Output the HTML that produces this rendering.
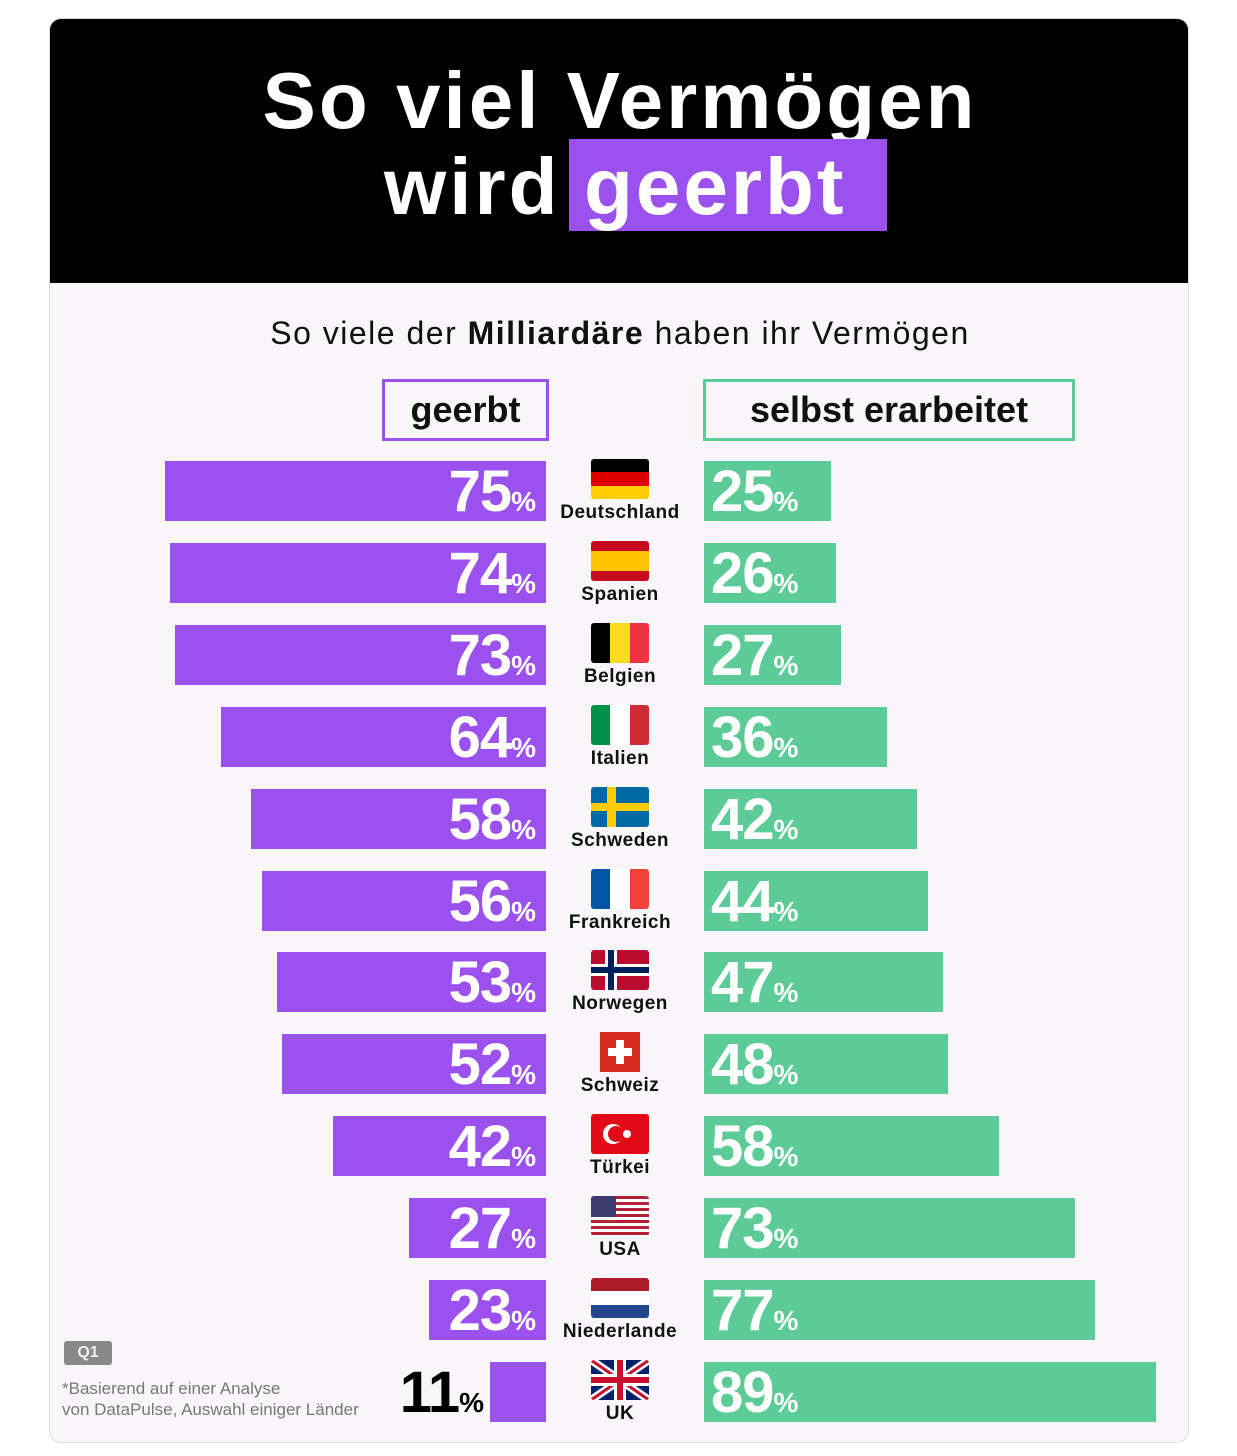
<!DOCTYPE html>
<html><head><meta charset="utf-8"><style>
*{margin:0;padding:0;box-sizing:border-box}
body{width:1237px;height:1456px;background:#fff;font-family:"Liberation Sans","DejaVu Sans",sans-serif;position:relative;overflow:hidden}
.card{position:absolute;left:49px;top:18px;width:1140px;height:1425px;background:#f9f6f9;border-radius:12px;border:1px solid #ddd;overflow:hidden}
.head{position:absolute;left:0;top:0;width:1140px;height:264px;background:#000}
.t{position:absolute;color:#fff;font-weight:bold;font-size:80px;letter-spacing:3px;white-space:nowrap}
.abs{position:absolute}
.bar{position:absolute;height:60px}
.p{background:#9b51ee}
.g{background:#5ccb98}
.v{position:absolute;color:#fff;font-weight:bold;font-size:58px;line-height:62px;white-space:nowrap;letter-spacing:-1px}
.v small{font-size:28px;letter-spacing:0}
.lab{position:absolute;width:160px;text-align:center;font-weight:bold;font-size:19px;color:#111;letter-spacing:0.5px}
.flag{position:absolute;width:58px;height:40px;border-radius:3px;overflow:hidden}
</style></head><body>
<div class="card">
<div class="head"></div>
<div class="t" style="left:0;width:1140px;text-align:center;top:36px">So viel Vermögen</div>
<div class="abs" style="left:519px;top:120px;width:318px;height:92px;background:#9b51ee"></div>
<div class="t" style="left:334px;top:122px">wird</div>
<div class="t" style="left:534px;top:122px">geerbt</div>
<div class="abs" style="left:0;width:1140px;text-align:center;top:296px;font-size:32px;letter-spacing:1.5px;color:#111">So viele der <b>Milliardäre</b> haben ihr Vermögen</div>
<div class="abs" style="left:332px;top:360px;width:167px;height:62px;border:3px solid #9b51ee;font-weight:bold;font-size:36px;text-align:center;line-height:56px;color:#111">geerbt</div>
<div class="abs" style="left:653px;top:360px;width:372px;height:62px;border:3px solid #5ccb98;font-weight:bold;font-size:36px;text-align:center;line-height:56px;color:#111">selbst erarbeitet</div>
<div class="abs" style="left:14px;top:1322px;width:48px;height:24px;background:#888;border-radius:3px;color:#eee;font-weight:bold;font-size:16px;text-align:center;line-height:24px">Q1</div>
<div class="abs" style="left:12px;top:1359px;font-size:17px;color:#777;line-height:21px">*Basierend auf einer Analyse<br>von DataPulse, Auswahl einiger Länder</div>
<div id="rows"></div>
</div>
<script>
var d=[["Deutschland",75],["Spanien",74],["Belgien",73],["Italien",64],["Schweden",58],["Frankreich",56],["Norwegen",53],["Schweiz",52],["Türkei",42],["USA",27],["Niederlande",23],["UK",11]];
var f={
Deutschland:'<div style="height:33%;background:#000"></div><div style="height:34%;background:#d00"></div><div style="height:33%;background:#fc0"></div>',
Spanien:'<div style="height:25%;background:#c60b1e"></div><div style="height:50%;background:#ffc400"></div><div style="height:25%;background:#c60b1e"></div>',
Belgien:'<div style="display:flex;height:100%"><div style="flex:1;background:#000"></div><div style="flex:1;background:#fdda24"></div><div style="flex:1;background:#ef3340"></div></div>',
Italien:'<div style="display:flex;height:100%"><div style="flex:1;background:#009246"></div><div style="flex:1;background:#fff"></div><div style="flex:1;background:#ce2b37"></div></div>',
Schweden:'<svg width="58" height="40"><rect width="58" height="40" fill="#006aa7"/><rect x="16" width="9" height="40" fill="#fecc00"/><rect y="16" width="58" height="8" fill="#fecc00"/></svg>',
Frankreich:'<div style="display:flex;height:100%"><div style="flex:1;background:#0055a4"></div><div style="flex:1;background:#fff"></div><div style="flex:1;background:#ef4135"></div></div>',
Norwegen:'<svg width="58" height="40"><rect width="58" height="40" fill="#ba0c2f"/><rect x="14" width="12" height="40" fill="#fff"/><rect y="14" width="58" height="12" fill="#fff"/><rect x="17" width="6" height="40" fill="#00205b"/><rect y="17" width="58" height="6" fill="#00205b"/></svg>',
Schweiz:'<svg width="58" height="40"><rect x="9" width="40" height="40" fill="#d52b1e"/><rect x="25" y="8" width="8" height="24" fill="#fff"/><rect x="17" y="16" width="24" height="8" fill="#fff"/></svg>',
"Türkei":'<svg width="58" height="40"><rect width="58" height="40" fill="#e30a17"/><circle cx="22" cy="20" r="10" fill="#fff"/><circle cx="25" cy="20" r="8" fill="#e30a17"/><circle cx="36" cy="20" r="4" fill="#fff"/></svg>',
USA:'<svg width="58" height="40"><rect width="58" height="40" fill="#fff"/><g fill="#b22234"><rect y="0" width="58" height="3"/><rect y="6" width="58" height="3"/><rect y="12" width="58" height="3"/><rect y="18" width="58" height="3"/><rect y="24" width="58" height="3"/><rect y="30" width="58" height="3"/><rect y="36" width="58" height="3"/></g><rect width="25" height="21" fill="#3c3b6e"/></svg>',
Niederlande:'<div style="height:33%;background:#ae1c28"></div><div style="height:34%;background:#fff"></div><div style="height:33%;background:#21468b"></div>',
UK:'<svg width="58" height="40"><rect width="58" height="40" fill="#012169"/><path d="M0 0L58 40M58 0L0 40" stroke="#fff" stroke-width="8"/><path d="M0 0L58 40M58 0L0 40" stroke="#c8102e" stroke-width="3"/><rect x="23" width="12" height="40" fill="#fff"/><rect y="14" width="58" height="12" fill="#fff"/><rect x="26" width="6" height="40" fill="#c8102e"/><rect y="17" width="58" height="6" fill="#c8102e"/></svg>'};
var h='';
d.forEach(function(r,i){
 var y=442+i*81.9, w=r[1]*5.08, gw=(100-r[1])*5.08;
 h+='<div class="bar p" style="left:'+(496-w)+'px;top:'+y+'px;width:'+w+'px"></div>';
 if(r[1]>15) h+='<div class="v" style="right:'+(1140-488)+'px;top:'+y+'px">'+r[1]+'<small>%</small></div>';
 else h+='<div class="v" style="right:'+(1140-436)+'px;top:'+y+'px;color:#000">'+r[1]+'<small>%</small></div>';
 h+='<div class="bar g" style="left:654px;top:'+y+'px;width:'+gw+'px"></div>';
 h+='<div class="v" style="left:661px;top:'+y+'px">'+(100-r[1])+'<small>%</small></div>';
 h+='<div class="flag" style="left:541px;top:'+(y-2)+'px">'+f[r[0]]+'</div>';
 h+='<div class="lab" style="left:490px;top:'+(y+41)+'px">'+r[0]+'</div>';
});
document.getElementById('rows').innerHTML=h;
</script>
</body></html>
